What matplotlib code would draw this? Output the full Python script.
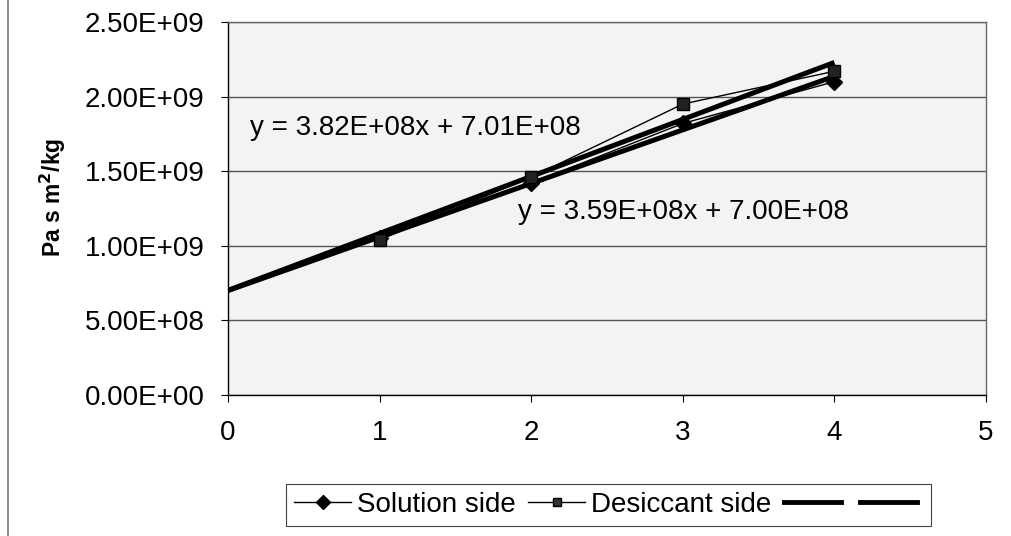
import numpy as np
import matplotlib
matplotlib.use("Agg")
import matplotlib.pyplot as plt
from matplotlib.ticker import FuncFormatter, MultipleLocator
from matplotlib.lines import Line2D

plt.rcParams['font.family'] = ['Liberation Sans', 'DejaVu Sans']

x_vals = [1, 2, 3, 4]
solution_side = [1.05e9, 1.42e9, 1.82e9, 2.10e9]
desiccant_side = [1.04e9, 1.46e9, 1.95e9, 2.17e9]

# trend lines (slope, intercept) as printed on the chart
trend_solution = (3.59e8, 7.00e8)
trend_desiccant = (3.82e8, 7.01e8)
trend_x = [0, 4]

eq_solution = "y = 3.59E+08x + 7.00E+08"
eq_desiccant = "y = 3.82E+08x + 7.01E+08"

series_labels = ["Solution side", "Desiccant side", "", ""]
y_label = r"Pa s m$^\mathbf{2}$/kg"

fig = plt.figure(figsize=(10.11, 5.36), dpi=100)
ax = fig.add_axes([228/1011, 1-395/536, (986-228)/1011, (395-22)/536])
ax.set_facecolor('#f3f3f3')

ax.set_xlim(0, 5)
ax.set_ylim(0, 2.5e9)
ax.xaxis.set_major_locator(MultipleLocator(1))
ax.yaxis.set_major_locator(MultipleLocator(5e8))
ax.yaxis.set_major_formatter(FuncFormatter(lambda v, p: f"{v:.2E}"))

ax.grid(axis='y', color='#555555', linewidth=1.0)
ax.set_axisbelow(True)

for s in ['left', 'bottom']:
    ax.spines[s].set_color('black')
    ax.spines[s].set_linewidth(1.0)
for s in ['top', 'right']:
    ax.spines[s].set_color('#666666')
    ax.spines[s].set_linewidth(1.0)

ax.tick_params(axis='both', direction='out', length=5, width=0.8, colors='black', labelsize=20)
ax.tick_params(axis='y', pad=12)
ax.tick_params(axis='x', pad=13)

l1, = ax.plot(x_vals, solution_side, color='black', lw=1.0, marker='D', markersize=8,
              markerfacecolor='black', markeredgecolor='black', zorder=4)
l2, = ax.plot(x_vals, desiccant_side, color='black', lw=1.0, marker='s', markersize=8,
              markerfacecolor='#222222', markeredgecolor='black', zorder=4)

tx = np.array(trend_x, dtype=float)
t1, = ax.plot(tx, trend_solution[0]*tx + trend_solution[1], color='black', lw=3.6,
              solid_capstyle='butt', zorder=3)
t2, = ax.plot(tx, trend_desiccant[0]*tx + trend_desiccant[1], color='black', lw=3.6,
              solid_capstyle='butt', zorder=3)

ax.text(0.029, 0.716, eq_desiccant, transform=ax.transAxes, fontsize=20,
        ha='left', va='center', color='black')
ax.text(0.383, 0.49, eq_solution, transform=ax.transAxes, fontsize=20,
        ha='left', va='center', color='black')

ax.set_ylabel(y_label, fontsize=16.5, fontweight='bold')
ax.yaxis.set_label_coords(-(228-68)/758, 0.53)

h1 = Line2D([], [], color='black', lw=1.0, marker='D', markersize=7)
h2 = Line2D([], [], color='black', lw=1.0, marker='s', markersize=6, markerfacecolor='#333333')
h3 = Line2D([], [], color='black', lw=3.5)
h4 = Line2D([], [], color='black', lw=3.5)
leg = fig.legend([h1, h2, h3, h4], series_labels, loc='center',
                 bbox_to_anchor=(608.5/1011, 1-505/536), ncol=4, fontsize=20,
                 frameon=True, fancybox=False, framealpha=1, edgecolor='#444444',
                 handlelength=2.05, handletextpad=0.22, columnspacing=0.45,
                 borderpad=0.3, borderaxespad=0)
leg.get_frame().set_linewidth(0.8)

fig.add_artist(Line2D([8/1011, 8/1011], [0, 1], color='#777777', lw=1.2,
                      transform=fig.transFigure))

fig.savefig("out.png", dpi=100)
